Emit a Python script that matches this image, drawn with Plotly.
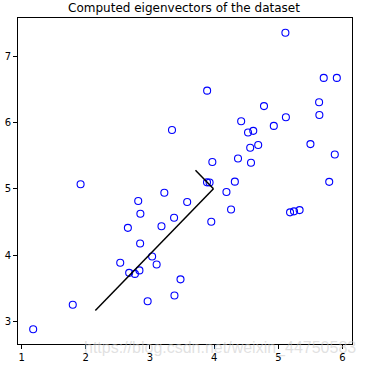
import numpy as np
import plotly.graph_objects as go

x_vals = [3.38156267, 4.52787538, 2.65568187, 2.76523467, 2.84656011, 3.89067196, 3.47580524,
          5.91129845, 3.92889397, 4.56183537, 4.57407171, 4.37173356, 4.19169388, 5.24408518,
          2.8358402, 5.63526969, 4.68632968, 2.85051337, 5.1101573, 5.18256377, 5.70732809,
          3.57968458, 5.63937773, 4.26346851, 2.53651693, 3.22382902, 4.92948801, 5.79295774,
          2.81684824, 3.88882414, 3.34323419, 5.87973414, 3.10391912, 5.33150572, 3.37542687,
          4.77667888, 2.6757463, 5.50027665, 1.79709714, 4.3225147, 4.42100445, 3.17929886,
          3.03354125, 4.6093482, 2.96378859, 3.97176248, 1.18023321, 1.91895045, 3.95524687,
          5.11795499]
y_vals = [3.38911268, 5.8541781, 4.41199472, 3.71541365, 4.17550645, 6.48838087, 3.63284876,
          6.68076853, 5.09844661, 5.62329929, 5.39765069, 5.46116549, 4.95469359, 4.66148767,
          3.76801716, 6.31211438, 5.6652411, 4.62645627, 7.36319662, 4.64650909, 6.68103995,
          4.80278074, 6.12043594, 4.68942896, 3.88449078, 4.94255585, 5.95501971, 5.10839305,
          4.81895769, 5.10036564, 5.89301345, 5.52141664, 3.85710242, 4.68074235, 4.56537852,
          6.25435039, 3.73096988, 5.67948113, 3.24753885, 5.11110472, 6.02563978, 4.43686032,
          3.97879278, 5.8797416, 3.30024835, 5.40773735, 2.87869409, 5.07107848, 4.50532709,
          6.08507386]
x_ticks = [1, 2, 3, 4, 5, 6]
y_ticks = [3, 4, 5, 6, 7]

X = np.column_stack([x_vals, y_vals])
mu = X.mean(axis=0)
Xn = (X - mu) / X.std(axis=0)
Sigma = Xn.T @ Xn / len(Xn)
U, S, _ = np.linalg.svd(Sigma)
u0 = U[:, 0] * (-1 if U[0, 0] > 0 else 1)
u1 = U[:, 1] * (-1 if U[0, 1] > 0 else 1)
p0 = mu + 1.5 * S[0] * u0
p1 = mu + 1.5 * S[1] * u1

fig = go.Figure()
fig.add_trace(go.Scatter(x=x_vals, y=y_vals, mode="markers",
                         marker=dict(symbol="circle-open", size=7, color="#0000ff",
                                     line=dict(width=1.1, color="#0000ff")),
                         showlegend=False))
fig.add_trace(go.Scatter(x=[mu[0], p0[0]], y=[mu[1], p0[1]], mode="lines",
                         line=dict(color="black", width=1.5), showlegend=False))
fig.add_trace(go.Scatter(x=[mu[0], p1[0]], y=[mu[1], p1[1]], mode="lines",
                         line=dict(color="black", width=1.5), showlegend=False))

xmin, xmax = min(x_vals), max(x_vals)
ymin, ymax = min(y_vals), max(y_vals)
dx, dy = (xmax - xmin) * 0.05, (ymax - ymin) * 0.05

axis_common = dict(showline=True, linecolor="black", linewidth=1, mirror=True,
                   ticks="outside", ticklen=4, tickwidth=1, tickcolor="black",
                   showgrid=False, zeroline=False, automargin=False,
                   tickfont=dict(family="DejaVu Sans", size=10, color="black"))
fig.update_layout(
    width=368, height=365,
    margin=dict(l=18, r=16, t=18, b=21),
    paper_bgcolor="white", plot_bgcolor="white",
    title=dict(text="Computed eigenvectors of the dataset", x=0.5, xanchor="center",
               y=1 - 8 / 365, yanchor="middle",
               font=dict(family="DejaVu Sans", size=12, color="black")),
    xaxis=dict(range=[xmin - dx, xmax + dx], tickvals=x_ticks, **axis_common),
    yaxis=dict(range=[ymin - dy, ymax + dy], tickvals=y_ticks, **axis_common),
)
fig.add_annotation(text="https://blog.csdn.net/weixin_44750583", xref="paper", yref="paper",
                   x=1.018, y=-0.011, xanchor="right", yanchor="middle", showarrow=False,
                   font=dict(family="Liberation Sans", size=16, color="rgba(200,200,200,0.55)"))
fig.write_html("out.html", config={"displayModeBar": False},
               post_script="document.body.style.margin='0px';document.body.style.overflow='hidden';")
